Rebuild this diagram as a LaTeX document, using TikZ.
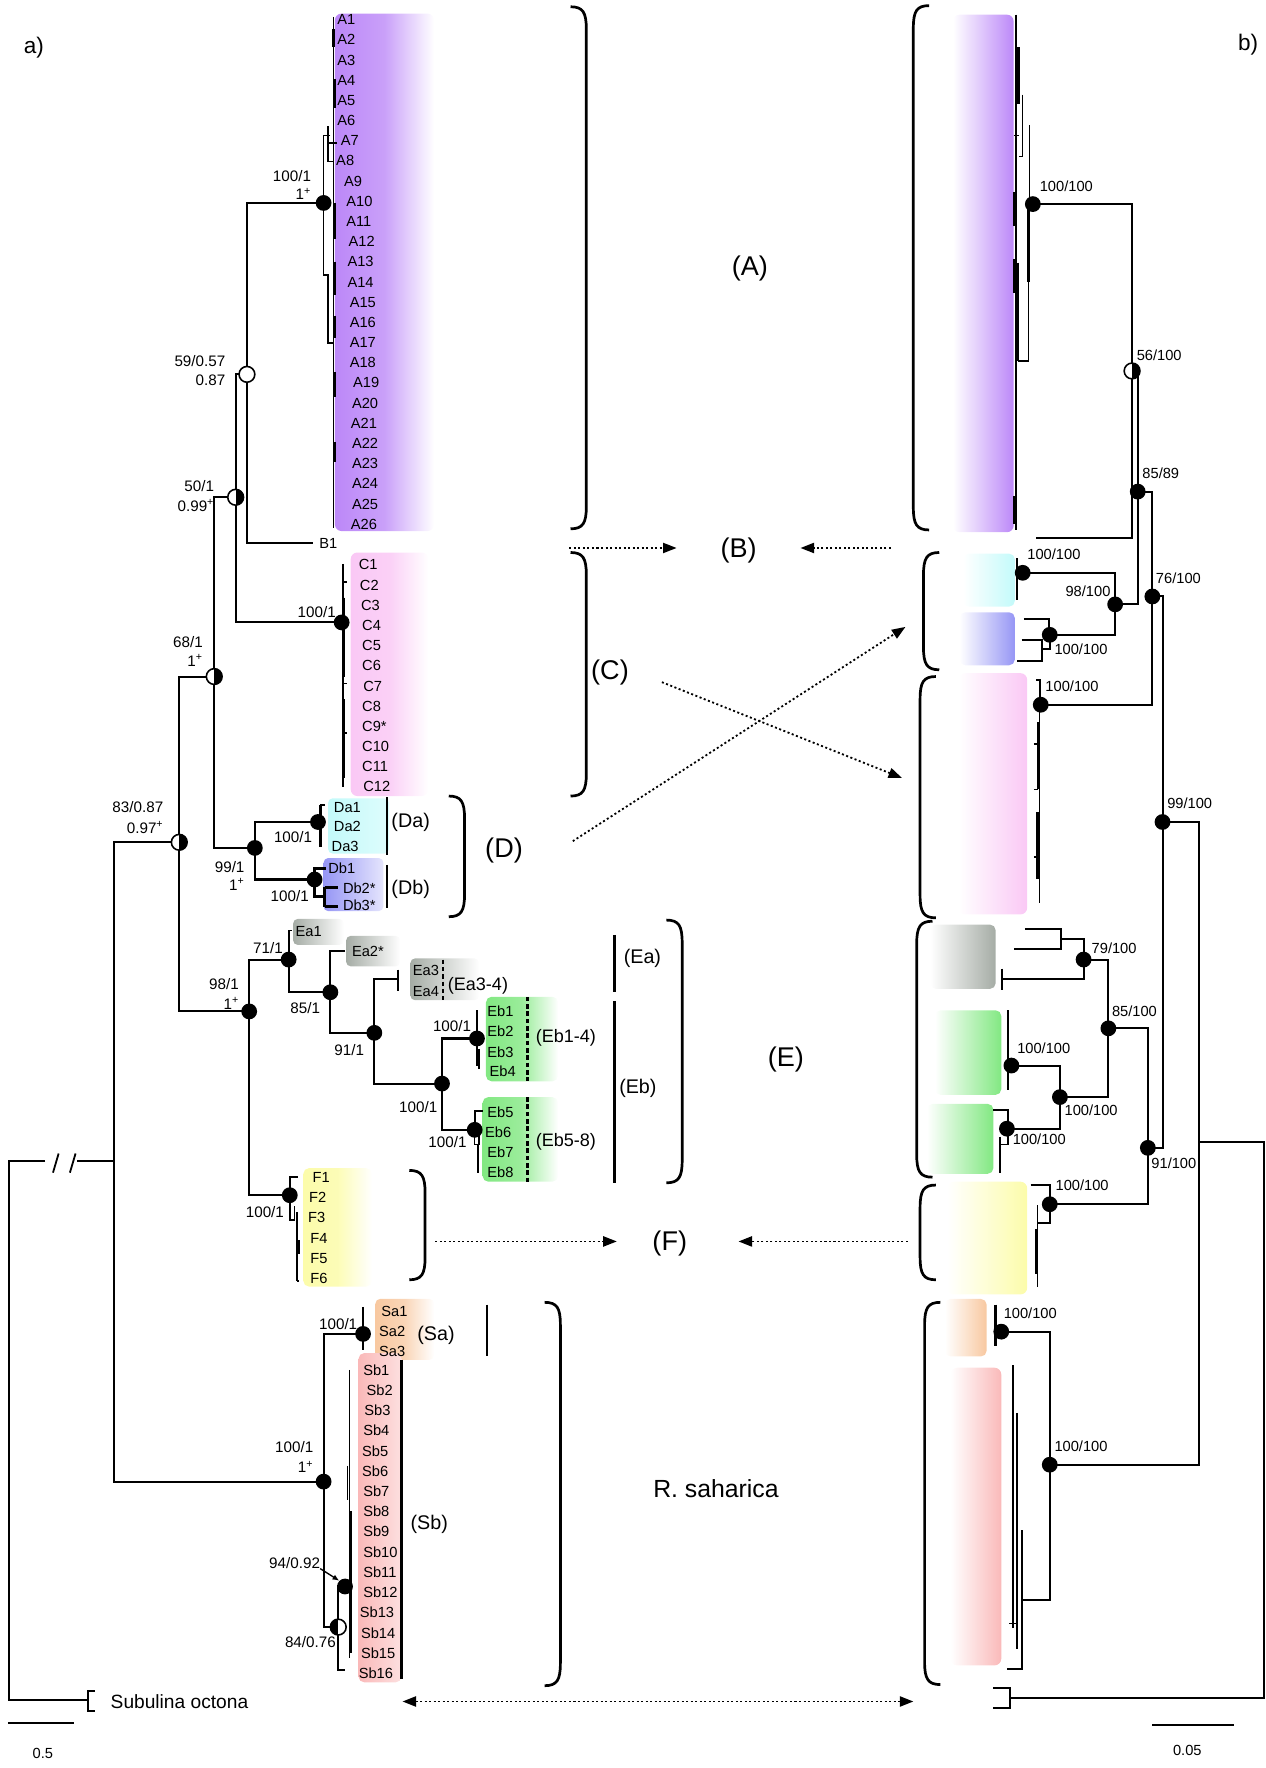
\documentclass[tikz,border=0pt]{standalone}
\usepackage{fontspec}
\setmainfont{Liberation Sans}
\usetikzlibrary{arrows.meta}
\definecolor{cA}{RGB}{188,136,248}
\definecolor{cC}{RGB}{250,200,245}
\definecolor{cDa}{RGB}{195,250,250}
\definecolor{cDb}{RGB}{150,150,245}
\definecolor{cEa}{RGB}{165,172,165}
\definecolor{cEb}{RGB}{130,232,130}
\definecolor{cF}{RGB}{252,252,170}
\definecolor{cSa}{RGB}{248,200,160}
\definecolor{cSb}{RGB}{250,185,185}
\newcommand{\rbrk}[3]{\draw[brk] (#1-14,#2) .. controls (#1-3,#2) and (#1,#2+5) .. (#1,#2+20) -- (#1,#3-20) .. controls (#1,#3-5) and (#1-3,#3) .. (#1-14,#3);}
\newcommand{\lbrk}[3]{\draw[brk] (#1+14,#2) .. controls (#1+3,#2) and (#1,#2+5) .. (#1,#2+20) -- (#1,#3-20) .. controls (#1,#3-5) and (#1+3,#3) .. (#1+14,#3);}
\tikzset{
 br/.style={line width=1.8pt, line join=miter},
 tl/.style={line width=1.3pt},
 tk/.style={line width=2.4pt},
 fn/.style={circle, fill=black, inner sep=0pt, minimum size=14pt},
 on/.style={circle, draw=black, fill=white, line width=1.4pt, inner sep=0pt, minimum size=14pt},
 hr/.style={on, path picture={\fill[black] (path picture bounding box.south) rectangle (path picture bounding box.north east);}},
 hl/.style={on, path picture={\fill[black] (path picture bounding box.south west) rectangle (path picture bounding box.north);}},
 tip/.style={font=\fontsize{13}{13}\selectfont, inner sep=0pt, anchor=west},
 sv/.style={font=\fontsize{13.5}{14}\selectfont, inner sep=0pt, anchor=east},
 svr/.style={font=\fontsize{13}{13}\selectfont, inner sep=0pt, anchor=west},
 big/.style={font=\fontsize{24}{24}\selectfont, inner sep=0pt},
 mid/.style={font=\fontsize{17.5}{18}\selectfont, inner sep=0pt, anchor=west},
 sml/.style={font=\fontsize{16}{16}\selectfont, inner sep=0pt, anchor=west},
 brk/.style={line width=2.4pt},
 cl/.style={line width=2pt},
 dsh/.style={line width=2.2pt, dash pattern=on 4pt off 2.5pt},
 darr/.style={line width=1.6pt, dash pattern=on 1.8pt off 2.2pt, -{Triangle[length=12pt,width=9pt]}},
 ddarr/.style={line width=1.6pt, dash pattern=on 1.8pt off 2.2pt, {Triangle[length=12pt,width=9pt]}-{Triangle[length=12pt,width=9pt]}},
}
\begin{document}
\begin{tikzpicture}[x=1pt,y=-1pt]
\useasboundingbox (0,0) rectangle (1122,1568);

%%%%%%%% LEFT PANEL: coloured boxes
\shade[left color=cA, right color=white, middle color=cA!80, rounded corners=6pt] (297,12) rectangle (385,471);
\shade[left color=cC, right color=white, middle color=cC!85, rounded corners=6pt] (311,490) rectangle (380,706);
\shade[left color=cDa, right color=cDa!55, rounded corners=4pt] (291,708) rectangle (345,757);
\shade[left color=cDb, right color=cDb!25, rounded corners=4pt] (287,761) rectangle (340,808);
\shade[left color=cEa, right color=white, rounded corners=4pt] (260,815) rectangle (305,838);
\shade[left color=cEa, right color=white, rounded corners=4pt] (307,830) rectangle (355,857);
\shade[left color=cEa, right color=white, rounded corners=4pt] (364,850) rectangle (425,887);
\shade[left color=cEb, right color=white, middle color=cEb!80, rounded corners=5pt] (431,884) rectangle (495,959);
\shade[left color=cEb, right color=white, middle color=cEb!80, rounded corners=5pt] (428,973) rectangle (495,1048);
\shade[left color=cF, right color=white, middle color=cF!85, rounded corners=5pt] (269,1036) rectangle (330,1141);
\shade[left color=cSa, right color=white, middle color=cSa!75, rounded corners=4pt] (333,1152) rectangle (385,1206);
\shade[left color=cSb, right color=cSb!45, rounded corners=5pt] (318,1200) rectangle (356,1492);

%%%%%%%% LEFT PANEL: tree coordinates
\coordinate (nRoot) at (8,1030);
\coordinate (brL) at (40,1030);
\coordinate (brR) at (68,1030);
\coordinate (nIn) at (101,1030);
\coordinate (n83) at (159,747);
\coordinate (n68) at (190,600);
\coordinate (n50) at (209,441);
\coordinate (n59) at (219,332);
\coordinate (nA) at (287,180);
\coordinate (tB) at (278,482);
\coordinate (nC) at (303,552);
\coordinate (n99) at (226,752);
\coordinate (nDa) at (282,729);
\coordinate (nDb) at (279,780);
\coordinate (n98) at (221,897);
\coordinate (n71) at (256,851);
\coordinate (tEa1) at (256,825);
\coordinate (n85) at (293,880);
\coordinate (tEa2) at (306,843);
\coordinate (n91) at (332,916);
\coordinate (tEa34) at (353,868);
\coordinate (nEb) at (392,961);
\coordinate (nEb14) at (423,921);
\coordinate (nEb58) at (421,1002);
\coordinate (nF) at (257,1060);
\coordinate (nS) at (287,1314);
\coordinate (nSa) at (322,1183);
\coordinate (n84) at (300,1443);
\coordinate (n94) at (306,1407);
\coordinate (tSb16) at (306,1481);
\coordinate (tSub) at (78,1508);

%% branches
\draw[br] (nA) -| (n59) |- (tB);
\draw[br] (n59) -| (n50) |- (nC);
\draw[br] (n50) -| (n68) |- (n99);
\draw[br] (n68) -| (n83) |- (n98);
\draw[br] (n83) -| (nIn) |- (nS);
\draw[br] (nIn) -- (brR);
\draw[br] (brL) -- (nRoot) |- (tSub);
\draw[line width=1.6pt] (47,1040) -- (52,1023) (62,1040) -- (67,1023);
\draw[br] (84,1500) -- (78,1500) -- (78,1517) -- (84,1517);
\draw[br] (nDa) -| (n99) |- (nDb);
\draw[br] (n71) -| (n98) |- (nF);
\draw[br] (tEa1) -| (n71) |- (n85);
\draw[br] (tEa2) -| (n85) |- (n91);
\draw[br] (tEa34) -| (n91) |- (nEb);
\draw[br] (nEb14) -| (nEb) |- (nEb58);
\draw[br] (nSa) -| (nS) |- (n84);
\draw[br] (n94) -| (n84) |- (tSb16);

%% tip details (left)
\draw[tl] (296,15) -- (296,468);
\draw[tk] (296,26) -- (296,42) (297,70) -- (297,96) (297,180) -- (297,212) (297,232) -- (297,262) (297,280) -- (297,300) (297,330) -- (297,352) (297,392) -- (297,410);
\draw[tl] (293,120) -- (287,120) -- (287,244) -- (291,244) -- (291,304) -- (296,304);
\draw[tl] (291,112) -- (291,143) -- (296,143);
\draw[tl] (291,127) -- (299,127);
\draw[tl] (304,500) -- (304,698);
\draw[tk] (305,530) -- (305,600) (305,620) -- (305,690);
\draw[tl] (305,516) -- (308,516) (305,606) -- (308,606) (305,650) -- (308,650);
\draw[tk] (284,714) -- (284,751);
\draw[tl] (284,714) -- (288,714);
\draw[tk] (279,780) -- (279,770) -- (289,770);
\draw[tk] (279,780) -- (279,795) -- (288,795);
\draw[tk] (288,787) -- (288,804);
\draw[tk] (288,787) -- (300,787) (288,804) -- (300,804);
\draw[tl] (256,825) -- (259,825);
\draw[br] (353,860) -- (353,879);
\draw[tk] (423,896) -- (423,945);
\draw[tl] (425,930) -- (425,948);
\draw[br] (421,1002) -- (421,985) -- (428,985);
\draw[tl] (421,1002) -- (421,1015) -- (425,1015) -- (425,1005);
\draw[br] (424,1015) -- (424,1040);
\draw[br] (264,1044) -- (257,1044) -- (257,1060);
\draw[tl] (257,1060) -- (257,1082) -- (261,1082) -- (261,1070);
\draw[br] (263,1075) -- (263,1136);
\draw[tl] (265,1100) -- (265,1112) (263,1136) -- (265,1136);
\draw[tk] (322,1159) -- (322,1197);
\draw[tl] (310,1215) -- (310,1470);
\draw[tk] (311,1340) -- (311,1466);
\draw[tl] (308,1300) -- (308,1330) (306,1407) -- (310,1407);

%% node symbols (left)
\node[fn] (cA) at (nA) {};
\node[on] (c59) at (n59) {};
\node[hr] (c50) at (n50) {};
\node[hr] (c68) at (n68) {};
\node[hr] (c83) at (n83) {};
\node[fn] (cC) at (nC) {};
\node[fn] (c99) at (n99) {};
\node[fn] (cDa) at (nDa) {};
\node[fn] (cDb) at (nDb) {};
\node[fn] (c98) at (n98) {};
\node[fn] (c71) at (n71) {};
\node[fn] (c85) at (n85) {};
\node[fn] (c91) at (n91) {};
\node[fn] (cEb) at (nEb) {};
\node[fn] (cEb14) at (nEb14) {};
\node[fn] (cEb58) at (nEb58) {};
\node[fn] (cF) at (nF) {};
\node[fn] (cS) at (nS) {};
\node[fn] (cSa) at (nSa) {};
\node[hl] (c84) at (n84) {};
\node[fn] (c94) at (n94) {};

%% support values (left)
\node[sv] at (276,156) {100/1}; \node[sv] at (276,172) {1\textsuperscript{+}};
\node[sv] at (200,320) {59/0.57}; \node[sv] at (200,337) {0.87};
\node[sv] at (190,431) {50/1}; \node[sv] at (190,448) {0.99\textsuperscript{+}};
\node[sv] at (180,569) {68/1}; \node[sv] at (180,586) {1\textsuperscript{+}};
\node[sv] at (145,716) {83/0.87}; \node[sv] at (145,734) {0.97\textsuperscript{+}};
\node[sv] at (298,543) {100/1};
\node[sv] at (277,742) {100/1};
\node[sv] at (217,769) {99/1}; \node[sv] at (217,784) {1\textsuperscript{+}};
\node[sv] at (274,795) {100/1};
\node[sv] at (251,841) {71/1};
\node[sv] at (212,873) {98/1}; \node[sv] at (212,890) {1\textsuperscript{+}};
\node[sv] at (284,894) {85/1};
\node[sv] at (323,931) {91/1};
\node[sv] at (418,910) {100/1};
\node[sv] at (388,982) {100/1};
\node[sv] at (414,1013) {100/1};
\node[sv] at (252,1075) {100/1};
\node[sv] at (317,1174) {100/1};
\node[sv] at (278,1283) {100/1}; \node[sv] at (278,1301) {1\textsuperscript{+}};
\node[sv] (l94) at (284,1386) {94/0.92};
\node[sv] at (298,1456) {84/0.76};
\draw[line width=1.2pt, -{Latex[length=6pt,width=5pt]}] (l94.south east) -- (c94.north west);

%% tip labels (left)
\foreach \i/\xx in {1/299,2/299,3/299,4/299,5/299,6/299,7/302,8/298,9/305,10/307,11/307,12/309,13/308,14/308,15/310,16/310,17/310,18/310,19/313,20/312,21/311,22/312,23/312,24/312,25/312,26/311}
  \node[tip] (tA\i) at (\xx,{17.4+(\i-1)*17.9}) {A\i};
\node[tip] (tB1) at (283,482) {B1};
\foreach \i/\xx/\t in {1/318/C1,2/319/C2,3/320/C3,4/321/C4,5/321/C5,6/321/C6,7/322/C7,8/321/C8,9/321/C9*,10/321/C10,11/321/C11,12/322/C12}
  \node[tip] (tC\i) at (\xx,{501+(\i-1)*17.9}) {\t};
\node[tip] (tDa1) at (296,716) {Da1};
\node[tip] (tDa2) at (296,733) {Da2};
\node[tip] (tDa3) at (294,751) {Da3};
\node[tip] (tDb1) at (291,770) {Db1};
\node[tip] (tDb2) at (304,788) {Db2*};
\node[tip] (tDb3) at (304,803) {Db3*};
\node[tip] (tEa1n) at (262,826) {Ea1};
\node[tip] (tEa2n) at (312,844) {Ea2*};
\node[tip] (tEa3) at (366,861) {Ea3};
\node[tip] (tEa4) at (366,879) {Ea4};
\node[tip] (tEb1) at (432,897) {Eb1};
\node[tip] (tEb2) at (432,915) {Eb2};
\node[tip] (tEb3) at (432,933) {Eb3};
\node[tip] (tEb4) at (434,950) {Eb4};
\node[tip] (tEb5) at (432,986) {Eb5};
\node[tip] (tEb6) at (430,1004) {Eb6};
\node[tip] (tEb7) at (432,1022) {Eb7};
\node[tip] (tEb8) at (432,1040) {Eb8};
\foreach \i/\xx in {1/277,2/274,3/273,4/275,5/275,6/275}
  \node[tip] (tF\i) at (\xx,{1044+(\i-1)*18}) {F\i};
\node[tip] (tSa1) at (338,1163) {Sa1};
\node[tip] (tSa2) at (336,1181) {Sa2};
\node[tip] (tSa3) at (336,1199) {Sa3};
\foreach \i/\xx in {1/322,2/325,3/323,4/322,5/321,6/321,7/322,8/322,9/322,10/322,11/322,12/322,13/319,14/320,15/320,16/318}
  \node[tip] (tSb\i) at (\xx,{1215+(\i-1)*17.93}) {Sb\i};
\node[font=\fontsize{17}{17}\selectfont, inner sep=0pt, anchor=west] (lSub) at (98,1509) {Subulina octona};

%% clade bars and labels (left)
\draw[cl] (343,707) -- (343,758);
\draw[cl] (343,767) -- (343,805);
\node[mid] (lDa) at (347,729) {(Da)};
\node[mid] (lDb) at (347,789) {(Db)};
\draw[dsh] (393,851) -- (393,887);
\draw[dsh] (468,884) -- (468,959);
\draw[dsh] (468,973) -- (468,1048);
\node[sml] (lEa34) at (397,874) {(Ea3-4)};
\node[sml] (lEb14) at (475,920) {(Eb1-4)};
\node[sml] (lEb58) at (475,1013) {(Eb5-8)};
\draw[cl] (545,829) -- (545,880);
\draw[cl] (545,888) -- (545,1049);
\node[mid] (lEa) at (553,850) {(Ea)};
\node[mid] (lEb) at (549,965) {(Eb)};
\draw[cl] (432,1157) -- (432,1203);
\draw[cl] (356,1206) -- (356,1489);
\node[mid] (lSa) at (370,1184) {(Sa)};
\node[mid] (lSb) at (364,1352) {(Sb)};

\rbrk{520}{6}{469}
\rbrk{520}{490}{706}
\rbrk{412}{706}{813}
\rbrk{605}{816}{1049}
\rbrk{377}{1038}{1135}
\rbrk{497}{1155}{1495}

\node[big] (lA) at (665,238) {(A)};
\node[big] (lB) at (655,488) {(B)};
\node[big] (lC) at (541,596) {(C)};
\node[big] (lD) at (447,754) {(D)};
\node[big] (lE) at (697,940) {(E)};
\node[big] (lF) at (594,1103) {(F)};
\node[font=\fontsize{22}{22}\selectfont, inner sep=0pt] (lRs) at (635,1320) {R. saharica};
\node[font=\fontsize{20}{20}\selectfont, inner sep=0pt] (la) at (30,42) {a)};
\node[font=\fontsize{20}{20}\selectfont, inner sep=0pt] (lb) at (1107,40) {b)};

%% scale bars
\coordinate (sL1) at (7,1528); \coordinate (sL2) at (66,1528);
\draw[line width=1.6pt] (sL1) -- (sL2);
\node[font=\fontsize{13}{13}\selectfont, inner sep=0pt] (lsL) at (38,1555) {0.5};
\coordinate (sR1) at (1022,1530); \coordinate (sR2) at (1094,1530);
\draw[line width=1.6pt] (sR1) -- (sR2);
\node[font=\fontsize{13}{13}\selectfont, inner sep=0pt] (lsR) at (1053,1552) {0.05};

%% dotted arrows
\coordinate (aB1s) at (505,486); \coordinate (aB1e) at (600,486);
\coordinate (aB2s) at (790,486); \coordinate (aB2e) at (710,486);
\coordinate (aCs) at (587,605); \coordinate (aCe) at (800,690);
\coordinate (aDs) at (508,746); \coordinate (aDe) at (803,556);
\coordinate (aF1s) at (386,1101); \coordinate (aF1e) at (547,1101);
\coordinate (aF2s) at (805,1101); \coordinate (aF2e) at (655,1101);
\coordinate (aSs) at (357,1509); \coordinate (aSe) at (810,1509);
\draw[darr] (aB1s) -- (aB1e);
\draw[darr] (aB2s) -- (aB2e);
\draw[darr] (aCs) -- (aCe);
\draw[darr] (aDs) -- (aDe);
\draw[darr] (aF1s) -- (aF1e);
\draw[darr] (aF2s) -- (aF2e);
\draw[ddarr] (aSs) -- (aSe);

%%%%%%%% RIGHT PANEL: boxes
\shade[left color=white, right color=cA, rounded corners=6pt] (845,13) rectangle (899,472);
\shade[left color=white, right color=cDa, rounded corners=5pt] (854,491) rectangle (900,538);
\shade[left color=white, right color=cDb, rounded corners=5pt] (851,543) rectangle (900,590);
\shade[left color=white, right color=cC, rounded corners=6pt] (850,597) rectangle (911,811);
\shade[left color=white, right color=cEa, rounded corners=5pt] (825,820) rectangle (883,877);
\shade[left color=white, right color=cEb, rounded corners=5pt] (829,896) rectangle (888,971);
\shade[left color=white, right color=cEb, rounded corners=5pt] (822,979) rectangle (881,1041);
\shade[left color=white, right color=cF, rounded corners=6pt] (840,1048) rectangle (911,1148);
\shade[left color=white, right color=cSa, rounded corners=5pt] (838,1152) rectangle (875,1203);
\shade[left color=white, right color=cSb, rounded corners=6pt] (843,1213) rectangle (888,1477);

\lbrk{810}{5}{470}
\lbrk{819}{490}{594}
\lbrk{816}{600}{814}
\lbrk{813}{817}{1044}
\lbrk{816}{1051}{1135}
\lbrk{820}{1155}{1494}

%% right tree coordinates
\coordinate (rA) at (916,181);
\coordinate (rB) at (919,477);
\coordinate (r56) at (1004,329);
\coordinate (r85) at (1009,436);
\coordinate (r98) at (989,536);
\coordinate (rDa) at (907,508);
\coordinate (rDb) at (931,563);
\coordinate (r76) at (1022,529);
\coordinate (rC) at (923,625);
\coordinate (r99) at (1031,729);
\coordinate (r91) at (1018,1018);
\coordinate (r85e) at (983,912);
\coordinate (r79) at (961,851);
\coordinate (rEa12) at (941,833);
\coordinate (rEa34) at (889,868);
\coordinate (rEb) at (940,973);
\coordinate (rEb14) at (897,945);
\coordinate (rEb58) at (893,1001);
\coordinate (rF) at (931,1068);
\coordinate (rIn) at (1063,1013);
\coordinate (rS) at (931,1299);
\coordinate (rSa) at (888,1181);
\coordinate (rSb) at (906,1419);
\coordinate (rRoot) at (1121,1013);
\coordinate (rSub) at (896,1506);

\draw[br] (rA) -| (r56) |- (rB);
\draw[br] (r56) -| (r85) |- (r98);
\draw[br] (r85) -| (r76) |- (rC);
\draw[br] (r76) -| (r99) |- (r91);
\draw[br] (r99) -| (rIn) |- (rS);
\draw[br] (rIn) -- (rRoot) |- (rSub);
\draw[br] (881,1497) -- (896,1497) -- (896,1515) -- (881,1515);
\draw[br] (rDa) -| (r98) |- (rDb);
\draw[br] (r85e) -| (r91) |- (rF);
\draw[br] (r79) -| (r85e) |- (rEb);
\draw[br] (rEa12) -| (r79) |- (rEa34);
\draw[br] (rEb14) -| (rEb) |- (rEb58);
\draw[br] (rSa) -| (rS) |- (rSb);

%% right tip details
\draw[tl] (901,13) -- (901,470);
\draw[tk] (903,42) -- (903,92);
\draw[tl] (907,84) -- (907,139) -- (904,139);
\draw[tl] (913,111) -- (913,250);
\draw[tl] (899,120) -- (904,120);
\draw[tk] (912,181) -- (912,250);
\draw[tl] (912,181) -- (912,320) -- (903,320);
\draw[tl] (903,233) -- (903,320);
\draw[tk] (900,170) -- (900,200) (900,230) -- (900,260) (900,440) -- (900,465);
\draw[tk] (902,495) -- (902,532);
\draw[br] (908,549) -- (930,549) -- (930,563);
\draw[br] (931,563) -- (931,576) -- (924,576);
\draw[br] (906,568) -- (924,568) -- (924,586) -- (902,586);
\draw[br] (919,603) -- (922,603) -- (922,625);
\draw[tl] (922,625) -- (922,801);
\draw[tk] (921,640) -- (921,700) (920,720) -- (920,780);
\draw[tl] (917,660) -- (921,660) (917,700) -- (921,700) (917,760) -- (921,760);
\draw[br] (909,824) -- (941,824) -- (941,842) -- (899,842);
\draw[br] (889,859) -- (889,878);
\draw[tk] (894,896) -- (894,967);
\draw[br] (881,984) -- (894,984) -- (894,1001);
\draw[tl] (894,1001) -- (894,1015) -- (887,1015);
\draw[br] (887,1008) -- (887,1040);
\draw[br] (914,1051) -- (931,1051) -- (931,1068);
\draw[br] (931,1068) -- (931,1085) -- (920,1085);
\draw[tl] (920,1069) -- (920,1141);
\draw[tk] (919,1090) -- (919,1130);
\draw[tk] (883,1157) -- (883,1194);
\draw[br] (898,1211) -- (898,1444);
\draw[tk] (902,1253) -- (902,1462);
\draw[br] (906,1357) -- (906,1480) -- (893,1480);
\draw[tl] (895,1440) -- (902,1440);

%% right node symbols
\node[fn] (crA) at (rA) {};
\node[hr] (cr56) at (r56) {};
\node[fn] (cr85) at (r85) {};
\node[fn] (cr98) at (r98) {};
\node[fn] (crDa) at (rDa) {};
\node[fn] (crDb) at (rDb) {};
\node[fn] (cr76) at (r76) {};
\node[fn] (crC) at (rC) {};
\node[fn] (cr99) at (r99) {};
\node[fn] (cr91) at (r91) {};
\node[fn] (cr85e) at (r85e) {};
\node[fn] (cr79) at (r79) {};
\node[fn] (crEb) at (rEb) {};
\node[fn] (crEb14) at (rEb14) {};
\node[fn] (crEb58) at (rEb58) {};
\node[fn] (crF) at (rF) {};
\node[fn] (crS) at (rS) {};
\node[fn] (crSa) at (rSa) {};

%% right support values
\node[svr] at (922,165) {100/100};
\node[svr] at (1008,315) {56/100};
\node[svr] at (1013,420) {85/89};
\node[svr] at (911,492) {100/100};
\node[svr] at (1025,513) {76/100};
\node[sv, font=\fontsize{13}{13}\selectfont] at (985,524) {98/100};
\node[svr] at (935,576) {100/100};
\node[svr] at (927,609) {100/100};
\node[svr] at (1035,712) {99/100};
\node[svr] at (968,841) {79/100};
\node[svr] at (986,897) {85/100};
\node[svr] at (902,930) {100/100};
\node[svr] at (944,985) {100/100};
\node[svr] at (898,1010) {100/100};
\node[svr] at (1021,1032) {91/100};
\node[svr] at (936,1051) {100/100};
\node[svr] at (890,1165) {100/100};
\node[svr] at (935,1283) {100/100};
\end{tikzpicture}
\end{document}
